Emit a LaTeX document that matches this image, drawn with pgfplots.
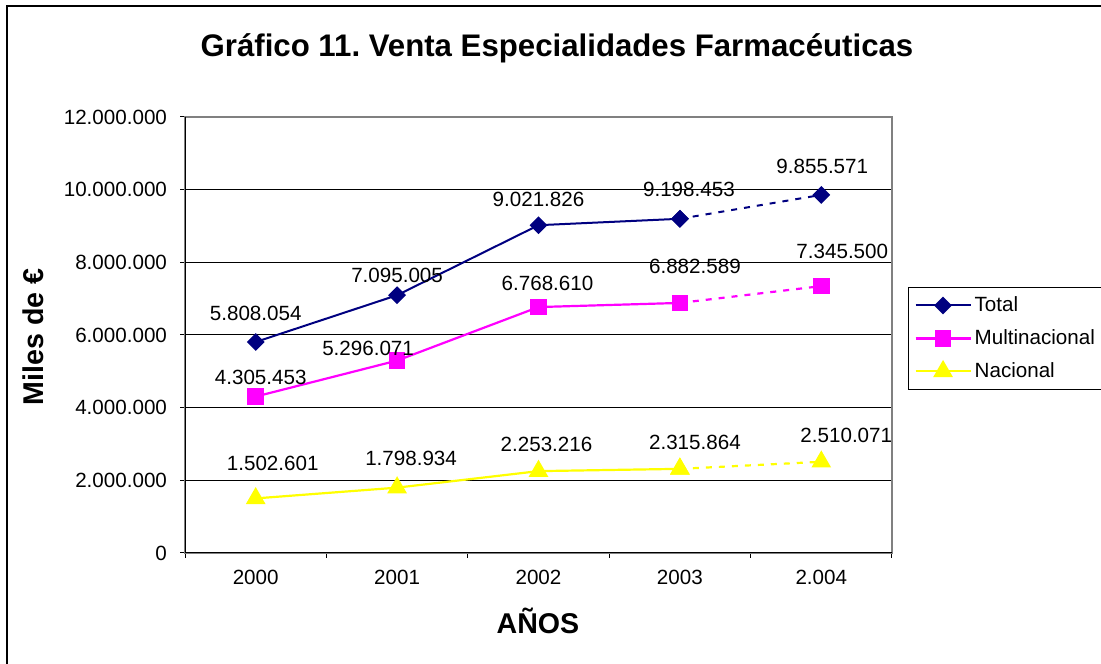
\documentclass[border=0pt]{standalone}
\usepackage{fontspec}
\setmainfont{Liberation Sans}
\usepackage{pgfplots}
\usepackage{pgfplotstable}
\pgfplotsset{compat=1.18}
\frenchspacing

\definecolor{serTotal}{RGB}{0,0,128}
\definecolor{serMulti}{RGB}{255,0,255}
\definecolor{serNac}{RGB}{255,255,0}
\definecolor{boxgray}{RGB}{128,128,128}

% x: year index, y: value, lab: printed label, dx/dy: label offset in px
\pgfplotstableread{
x y lab dx dy
0 5808054 5.808.054 0 29
1 7095005 7.095.005 0 20
2 9021826 9.021.826 0 26
3 9198453 9.198.453 9 29
4 9855571 9.855.571 1 28
}\tot
\pgfplotstableread{
x y lab dx dy
0 4305453 4.305.453 5 19
1 5296071 5.296.071 -29 12
2 6768610 6.768.610 9 24
3 6882589 6.882.589 15 37
4 7345500 7.345.500 21 35
}\multi
\pgfplotstableread{
x y lab dx dy
0 1502601 1.502.601 17 35
1 1798934 1.798.934 14 29
2 2253216 2.253.216 8 27
3 2315864 2.315.864 15 26
4 2510071 2.510.071 25 26
}\nac

\newcommand{\fs}{\fontsize{10.3}{12}\selectfont}

\begin{document}
\begin{tikzpicture}
\useasboundingbox (0,0) rectangle (550.5pt,331.5pt);
\draw[line width=0.6pt] (3.5pt,-5pt) -- (3.5pt,328.5pt) -- (560pt,328.5pt);

\begin{axis}[
  at={(92.5pt,55pt)}, anchor=south west,
  scale only axis, width=353.5pt, height=218pt,
  xmin=-0.5, xmax=4.5, ymin=0, ymax=12000000,
  xtick={0,1,2,3,4}, xticklabels={2000,2001,2002,2003,2.004},
  minor xtick={-0.5,0.5,1.5,2.5,3.5,4.5},
  major x tick style={draw=none},
  ytick={0,2000000,4000000,6000000,8000000,10000000,12000000},
  yticklabels={0,2.000.000,4.000.000,6.000.000,8.000.000,10.000.000,12.000.000},
  scaled y ticks=false,
  tick pos=left,
  tick align=outside, major tick length=2.5pt, minor tick length=2.5pt,
  tick style={black, line width=0.5pt},
  ticklabel style={font=\fs},
  yticklabel style={xshift=-3pt},
  xticklabel style={yshift=-2.5pt},
  ymajorgrids, major grid style={black, line width=0.5pt},
  axis line style={draw=boxgray, line width=1pt},
  legend style={at={(1.0226,0.610)}, anchor=north west, draw=black,
    line width=0.5pt, font=\fs, inner sep=3pt, row sep=4.5pt,
    nodes={inner sep=1.5pt}},
  legend cell align=left,
  legend image code/.code={\draw[mark repeat=2, mark phase=2, #1]
    plot coordinates {(0pt,0pt) (13.75pt,0pt) (27.5pt,0pt)};},
]
\addplot[serTotal, line width=1pt, mark=square*, mark size=2.65pt,
  mark options={rotate=45, solid}, restrict x to domain=0:3]
  table[x=x, y=y] {\tot};
\addlegendentry{Total}
\addplot[serMulti, line width=1.1pt, mark=square*, mark size=3.6pt,
  mark options={solid}, restrict x to domain=0:3]
  table[x=x, y=y] {\multi};
\addlegendentry{Multinacional}
\addplot[serNac, line width=1.1pt, mark=triangle*, mark size=4.6pt,
  mark options={solid}, restrict x to domain=0:3]
  table[x=x, y=y] {\nac};
\addlegendentry{Nacional}

\addplot[serTotal, line width=1pt, dash pattern=on 3pt off 3.5pt,
  mark=square*, mark size=2.65pt, mark options={rotate=45, solid},
  forget plot, restrict x to domain=3:4] table[x=x, y=y] {\tot};
\addplot[serMulti, line width=1.1pt, dash pattern=on 3pt off 3.5pt,
  mark=square*, mark size=3.6pt, mark options={solid},
  forget plot, restrict x to domain=3:4] table[x=x, y=y] {\multi};
\addplot[serNac, line width=1.1pt, dash pattern=on 3pt off 3.5pt,
  mark=triangle*, mark size=4.6pt, mark options={solid},
  forget plot, restrict x to domain=3:4] table[x=x, y=y] {\nac};

\addplot[draw=none, mark=none, forget plot, nodes near coords,
  point meta=explicit symbolic,
  visualization depends on={\thisrow{dx} \as \lx},
  visualization depends on={\thisrow{dy} \as \ly},
  nodes near coords style={anchor=center, font=\fs, text=black,
    xshift={\lx*0.5pt}, yshift={\ly*0.5pt}}]
  table[x=x, y=y, meta=lab] {\tot};
\addplot[draw=none, mark=none, forget plot, nodes near coords,
  point meta=explicit symbolic,
  visualization depends on={\thisrow{dx} \as \lx},
  visualization depends on={\thisrow{dy} \as \ly},
  nodes near coords style={anchor=center, font=\fs, text=black,
    xshift={\lx*0.5pt}, yshift={\ly*0.5pt}}]
  table[x=x, y=y, meta=lab] {\multi};
\addplot[draw=none, mark=none, forget plot, nodes near coords,
  point meta=explicit symbolic,
  visualization depends on={\thisrow{dx} \as \lx},
  visualization depends on={\thisrow{dy} \as \ly},
  nodes near coords style={anchor=center, font=\fs, text=black,
    xshift={\lx*0.5pt}, yshift={\ly*0.5pt}}]
  table[x=x, y=y, meta=lab] {\nac};

\draw[black, line width=0.6pt] (rel axis cs:0,1) -- (rel axis cs:0,0) -- (rel axis cs:1,0);
\end{axis}

\node[font=\fontsize{15.6}{18}\selectfont\bfseries] at (278.5pt,307.5pt)
  {Gráfico 11. Venta Especialidades Farmacéuticas};
\node[font=\fontsize{14.3}{17}\selectfont\bfseries] at (269pt,21pt) {AÑOS};
\node[font=\fontsize{14.3}{17}\selectfont\bfseries, rotate=90] at (16.5pt,163pt)
  {Miles de €};
\end{tikzpicture}
\end{document}
